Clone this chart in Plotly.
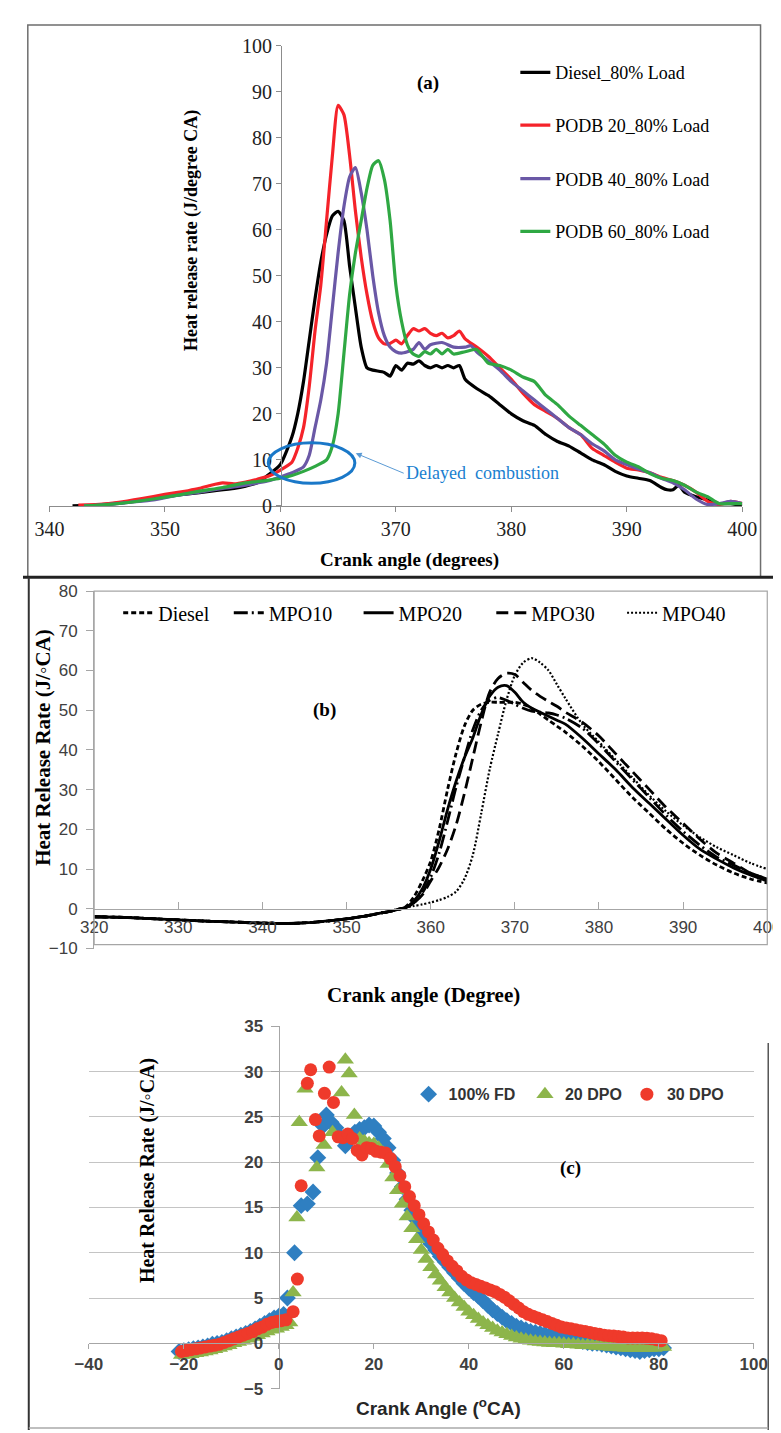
import plotly.graph_objects as go

W, H = 781, 1433
def PX(x): return x / W
def PY(y): return 1 - y / H

SERIF = "Liberation Serif, Times New Roman, serif"
SANS = "Liberation Sans, Arial, sans-serif"

# ---------------- Panel (a) data ----------------
a_names = ["Diesel_80% Load", "PODB 20_80% Load", "PODB 40_80% Load", "PODB 60_80% Load"]
a_colors = ["#000000", "#f5232a", "#6a58a6", "#2fa843"]

a_diesel_x = [342,344,346,348,350,352,354,356,357,358,
              359,360,361,361.5,362,362.5,363,363.5,364,364.5,
              365,365.5,366,366.5,367,367.5,368,369,369.5,370,
              370.5,371,371.5,372,372.5,373,373.5,374,374.5,375,
              375.5,376,377,378,379,380,381,382,383,384,
              385,386,387,388,389,390,391,392,393,393.5,
              394,394.5,395,396,397,398,399,400]
a_diesel_y = [0,0.2,0.6,1.2,2,2.6,3.2,3.8,4.3,5,
              6.8,9,15,20,27,36,45,53,59,63,
              64,62,52,43,34.5,30,29.5,29,28.2,30.5,
              29.5,31,30.8,31.5,30.5,30,30.5,30,30.5,30,
              30.5,27.5,25.5,24,22,20,18.5,17.5,15.5,14,
              13,11.5,10,9,7.5,6.5,6,5.5,4,3.5,
              3.5,4.5,3,2,1.3,0.5,0.5,0]

a_p20_x = [342.5,344,346,348,350,352,353,354,355,356,
           357,358,359,360,361,361.5,362,362.5,363,363.5,
           364,364.5,365,365.5,366,366.5,367,367.5,368,368.5,
           369,369.5,370,370.5,371,371.5,372,372.5,373,373.5,
           374,374.5,375,375.5,376,377,378,379,380,381,
           382,383,384,385,386,387,388,389,390,391,
           392,393,394,395,396,397,398,399,400]
a_p20_y = [0.2,0.3,0.8,1.6,2.5,3.3,3.8,4.5,5,4.8,
           5.2,5.8,6.5,7.8,9.5,12.5,17,26,38,48,
           62,76,87,85,76,64,54,46,40,36.5,
           35.2,35.3,36,35.2,37,38.5,38,38.5,37.5,37,
           37.5,36.5,37,38,36.3,34.5,32.5,30,27.5,24.5,
           22,20.5,19,17,15.5,12.5,11,9.5,8.2,7.8,
           7.2,6.2,5.5,4.5,3,1,0.3,1,0.5]

a_p40_x = [343,345,347,349,351,353,355,357,358,359,
           360,361,362,362.5,363,363.5,364,364.5,365,365.5,
           366,366.5,367,367.5,368,368.5,369,369.5,370,370.5,
           371,371.5,372,372.5,373,374,375,376,376.5,377,
           378,379,380,381,382,383,384,385,386,387,
           388,389,390,391,392,393,394,395,396,397,
           398,399,400]
a_p40_y = [0,0.3,0.8,1.3,2.3,3,3.8,4.5,5,5.5,
           6.3,7.2,8.5,11,17,23,31,43,55,65,
           71.5,73.5,68,60,50,42,37,34.5,33.5,33.2,
           33.5,34,35.5,34,35,35.5,34.5,34.5,34.8,33.5,
           31.5,29.5,27,25,23,21,19,17,15.5,13.5,
           12,10,9,8,7.2,6,5,3.5,1.5,0.3,
           0.5,1,0.5]

a_p60_x = [343,345,347,349,351,353,355,357,358,359,
           360,361,362,363,364,364.5,365,365.5,366,366.5,
           367,367.5,368,368.5,369,369.5,370,370.5,371,371.5,
           372,372.5,373,373.5,374,374.5,375,376,377,378,
           379,380,381,382,383,384,385,386,387,388,
           389,390,391,392,393,394,395,396,397,398,
           399,400]
a_p60_y = [0,0.3,0.8,1.5,2.3,3.2,4,5,5.3,5.6,
           6,6.6,7.5,8.6,10,13,20,33,46,55,
           62,69,74,75,71,62,48,40,35,33,
           32.5,33.5,33,34,33,34,33,33.5,34,31,
           30.5,29.5,28,27,24,22,19.5,17.5,15.5,13.5,
           11,9.5,8.5,7,6,5.5,4.5,3,2,0.5,
           0.5,0.5]

a_xticks = [340, 350, 360, 370, 380, 390, 400]
a_yticks = [0, 10, 20, 30, 40, 50, 60, 70, 80, 90, 100]

# ---------------- Panel (b) data ----------------
b_names = ["Diesel", "MPO10", "MPO20", "MPO30", "MPO40"]
b_x = [320,324,328,332,336,340,343,346,349,352,354,355,356,357,
       358,359,360,361,362,363,364,365,366,367,368,369,370,371,372,373,374,375,376,
       378,380,382,384,386,388,390,392,394,396,398,400]
b_diesel = [-2,-2.2,-2.6,-3,-3.3,-3.6,-3.7,-3.4,-2.8,-1.9,-1.1,-0.7,-0.2,0.5,
            3,7,12,20,30,39,46,50,51.5,52,52,52,52,51.5,50.5,49,47.5,46,44.5,
            41,37,32.5,28,24,20,16.5,13.5,11,9,7.5,6.5]
b_mpo10 = [-2,-2.2,-2.6,-3,-3.3,-3.6,-3.7,-3.4,-2.8,-1.9,-1.1,-0.7,-0.2,0.3,
           1.5,4,8,14,22,30.5,38,45,50,52.5,53.2,52.5,51.5,50.5,49.8,49.5,49.3,48.8,48,
           45.5,41.5,37,32.5,28,23.5,19.5,16,13,11,9,7.5]
b_mpo20 = [-2,-2.2,-2.6,-3,-3.3,-3.6,-3.7,-3.4,-2.8,-1.9,-1.1,-0.7,-0.2,0.3,
           2,5,10,17,25,32,38,43,49,53.5,55.8,56.2,54.5,52,50.5,49.5,48.5,47.5,46.5,
           43,39,35,30.5,26.5,22.5,18.5,15,12.5,10.3,8.5,7]
b_mpo30 = [-2,-2.2,-2.6,-3,-3.3,-3.6,-3.7,-3.4,-2.8,-1.9,-1.1,-0.7,-0.2,0.3,
           1.5,3.5,7,10.5,15,21,29,38,47,54.5,58,59.3,59,57,55,53.5,52.2,51,49.5,
           47,43.5,39,34.5,30,25.5,21.5,17.5,14,11.5,9,7.5]
b_mpo40 = [-2,-2.2,-2.6,-3,-3.3,-3.6,-3.7,-3.4,-2.8,-1.9,-1.1,-0.7,-0.2,0.3,
           0.7,1.1,1.6,2.2,3,4.3,7.5,13.5,24,35,44,52.5,58.8,62,63.1,62,60,56.5,53,
           46.5,42,37.5,33,28.5,24.5,21,18,15.5,13.5,11.5,10]
b_dash = ["5px,3px", "14px,4px,2px,4px", "solid", "12px,6px", "2px,2px"]
b_width = [2.8, 2.8, 2.8, 2.8, 2.2]
b_xticks = [320, 330, 340, 350, 360, 370, 380, 390, 400]
b_yticks = [-10, 0, 10, 20, 30, 40, 50, 60, 70, 80]

# ---------------- Panel (c) data ----------------
c_names = ["100% FD", "20 DPO", "30 DPO"]
c_fd_x = [-21,-20,-19,-18,-17,-16,-15,-14,-13,-12,
          -11,-10,-9,-8,-7,-6,-5,-4,-3,-2,
          -1,0,1,1.8,3.3,4.7,6,7.2,8.2,9.3,
          10,11,12,13,14,15,16,17,18,19,
          20,21,22,23,24,25,26,27,28,29,
          30,31,32,33,34,35,36,37,38,39,
          40,41,42,43,44,45,46,47,48,49,
          50,51,52,53,54,55,56,57,58,59,
          60,61,62,63,64,65,66,67,68,69,
          70,71,72,73,74,75,76,77,78,79,
          80,81]
c_fd_y = [-0.9,-0.8,-0.7,-0.6,-0.5,-0.4,-0.3,-0.1,0,0.1,
          0.3,0.5,0.7,0.9,1.1,1.3,1.6,1.9,2.2,2.5,
          2.8,3,3.2,5,10,15.2,15.4,16.7,20.5,24,
          25.2,24.4,23.8,22.8,21.8,22.6,23.3,23.6,23.8,24.1,
          24,23.3,22.6,21.6,20.2,18.8,17.3,15.9,14.7,13.6,
          12.6,11.8,11,10.3,9.6,9,8.4,7.8,7.2,6.6,
          6.1,5.6,5.2,4.7,4.2,3.7,3.3,2.9,2.5,2.2,
          1.9,1.7,1.5,1.3,1.2,1.1,1,0.9,0.8,0.7,
          0.6,0.5,0.4,0.3,0.2,0.1,0,0,-0.1,-0.2,
          -0.3,-0.4,-0.5,-0.6,-0.7,-0.8,-0.9,-0.8,-0.7,-0.6,
          -0.6,-0.5]
c_d20_x = [-20.5,-19.5,-18.5,-17.5,-16.5,-15.5,-14.5,-13.5,-12.5,-11.5,
           -10.5,-9.5,-8.5,-7.5,-6.5,-5.5,-4.5,-3.5,-2.5,-1.5,
           -0.5,0.5,1.5,2.3,3,3.8,4.3,5.5,8,9.5,
           11.3,13.2,14,14.8,15.9,17,18,19,20,21,
           22,23,24,25,26,27,28,29,30,31,
           32,33,34,35,36,37,38,39,40,41,
           42,43,44,45,46,47,48,49,50,51,
           52,53,54,55,56,57,58,59,60,61,
           62,63,64,65,66,67,68,69,70,71,
           72,73,74,75,76,77,78,79,80,81]
c_d20_y = [-1.3,-1.25,-1.2,-1.1,-1,-0.9,-0.8,-0.65,-0.5,-0.35,
           -0.2,0,0.15,0.3,0.5,0.7,0.9,1.1,1.3,1.5,
           1.6,1.8,2,2.3,5.6,13.9,24.4,28.1,19.4,21.9,
           23.3,27.7,31.3,29.8,25.2,22.6,22.3,22.1,22,21.6,
           21,19.8,18.3,16.9,15.4,14,12.7,11.5,10.3,9.3,
           8.4,7.6,6.9,6.2,5.6,5,4.5,4,3.5,3.1,
           2.7,2.3,2,1.7,1.4,1.2,1,0.8,0.65,0.5,
           0.4,0.3,0.2,0.15,0.1,0.05,0,0,-0.05,-0.1,
           -0.1,-0.15,-0.2,-0.2,-0.25,-0.3,-0.3,-0.35,-0.4,-0.4,
           -0.45,-0.5,-0.5,-0.5,-0.5,-0.5,-0.5,-0.5,-0.4,-0.4]
c_d30_x = [-20.5,-19.5,-18.5,-17.5,-16.5,-15.5,-14.5,-13.5,-12.5,-11.5,
           -10.5,-9.5,-8.5,-7.5,-6.5,-5.5,-4.5,-3.5,-2.5,-1.5,
           -0.5,0.5,1.5,3,3.9,4.7,6,6.7,7.7,8.5,
           9.6,10.6,11.5,12.5,13.5,14.5,15.5,16.5,17.5,18.5,
           19.5,20.5,21.5,22.5,23.5,24.5,25.5,26.5,27.5,28.5,
           29.5,30.5,31.5,32.5,33.5,34.5,35.5,36.5,37.5,38.5,
           39.5,40.5,41.5,42.5,43.5,44.5,45.5,46.5,47.5,48.5,
           49.5,50.5,51.5,52.5,53.5,54.5,55.5,56.5,57.5,58.5,
           59.5,60.5,61.5,62.5,63.5,64.5,65.5,66.5,67.5,68.5,
           69.5,70.5,71.5,72.5,73.5,74.5,75.5,76.5,77.5,78.5,
           79.5,80.5]
c_d30_y = [-0.9,-0.8,-0.7,-0.6,-0.5,-0.4,-0.3,-0.2,-0.1,0.1,
           0.3,0.5,0.7,0.9,1.1,1.3,1.6,1.8,2.1,2.3,
           2.4,2.5,2.6,3.5,7.1,17.4,28.7,30.2,24.7,22.9,
           27.6,30.5,26.6,22.8,22.7,23.1,22.6,21.3,20.8,21.6,
           21.5,21.2,21.1,21,20.4,19.5,18.5,17.3,16.2,15.2,
           14.2,13.2,12.3,11.4,10.5,9.8,9.1,8.5,8,7.4,
           7,6.7,6.5,6.3,6.1,5.9,5.7,5.4,5.1,4.7,
           4.3,3.9,3.5,3.2,3,2.8,2.6,2.4,2.2,2,
           1.8,1.7,1.6,1.5,1.4,1.3,1.2,1.1,1.0,0.9,
           0.85,0.8,0.75,0.7,0.6,0.6,0.6,0.6,0.55,0.5,
           0.4,0.3]
c_colors = ["#2f7fc1", "#8db54b", "#ef3a2b"]
c_symbols = ["diamond", "triangle-up", "circle"]
c_sizes = [13, 15, 13]
c_xticks = [-40, -20, 0, 20, 40, 60, 80, 100]
c_yticks = [-5, 0, 5, 10, 15, 20, 25, 30, 35]

fig = go.Figure()

for i, (xs, ys) in enumerate([(a_diesel_x, a_diesel_y), (a_p20_x, a_p20_y),
                              (a_p40_x, a_p40_y), (a_p60_x, a_p60_y)]):
    fig.add_trace(go.Scatter(x=xs, y=ys, mode="lines", name=a_names[i],
                             line=dict(color=a_colors[i], width=3.2, shape="spline", smoothing=0.6),
                             xaxis="x", yaxis="y",
                             legend="legend" if i == 0 else f"legend{i+1}"))

for i, ys in enumerate([b_diesel, b_mpo10, b_mpo20, b_mpo30, b_mpo40]):
    fig.add_trace(go.Scatter(x=b_x, y=ys, mode="lines", name=b_names[i],
                             line=dict(color="#000000", width=b_width[i], dash=b_dash[i],
                                       shape="spline", smoothing=0.8),
                             xaxis="x2", yaxis="y2", legend=f"legend{i+5}"))

for i, (xs, ys) in enumerate([(c_fd_x, c_fd_y), (c_d20_x, c_d20_y), (c_d30_x, c_d30_y)]):
    fig.add_trace(go.Scatter(x=xs, y=ys, mode="markers", name=c_names[i],
                             marker=dict(color=c_colors[i], symbol=c_symbols[i], size=c_sizes[i],
                                         line=dict(width=0)),
                             xaxis="x3", yaxis="y3", legend=f"legend{i+10}"))

def leg(x_px, y_px, size, family, weight="normal", color="#000000"):
    return dict(x=PX(x_px), y=PY(y_px), xanchor="left", yanchor="middle",
                bgcolor="rgba(0,0,0,0)", borderwidth=0,
                font=dict(family=family, size=size, color=color, weight=weight))

legends = {}
a_rows = [54.5, 108, 162.5, 216]
for i, yy in enumerate(a_rows):
    legends["legend" if i == 0 else f"legend{i+1}"] = leg(512, yy, 18, SERIF)
b_starts = [99, 214, 349, 487, 623]
for i, xx in enumerate(b_starts):
    legends[f"legend{i+5}"] = leg(xx, 603, 20, SERIF)
c_starts = [401, 522, 628]
for i, xx in enumerate(c_starts):
    legends[f"legend{i+10}"] = leg(xx, 1092, 16, SANS, weight="bold", color="#333333")

axis_common = dict(showgrid=False, zeroline=False, showline=True)

layout = dict(
    width=W, height=H, margin=dict(l=0, r=0, t=0, b=0),
    paper_bgcolor="white", plot_bgcolor="white", showlegend=True,
    xaxis=dict(domain=[PX(27.5), PX(748)], range=[340, 400], anchor="y",
               tickvals=a_xticks, ticks="outside", ticklen=5, tickcolor="#8c8c8c",
               linecolor="#8c8c8c", linewidth=1.2,
               tickfont=dict(family=SERIF, size=20, color="#222222"), **axis_common),
    yaxis=dict(domain=[PY(494.5), PY(27)], range=[0, 100], anchor="free", position=PX(268.5),
               tickvals=a_yticks, ticks="outside", ticklen=5, tickcolor="#8c8c8c",
               linecolor="#8c8c8c", linewidth=1.2,
               tickfont=dict(family=SERIF, size=20, color="#222222"), **axis_common),
    xaxis2=dict(domain=[PX(74), PX(774)], range=[320, 400], anchor="free", position=PY(904),
                tickvals=b_xticks, ticks="inside", ticklen=7, tickcolor="#a6a6a6",
                linecolor="#a6a6a6", linewidth=1.2, ticklabelstandoff=2,
                tickfont=dict(family=SANS, size=17, color="#404040"), **axis_common),
    yaxis2=dict(domain=[PY(944), PY(581)], range=[-10, 80], anchor="x2",
                tickvals=b_yticks, ticks="outside", ticklen=7, tickcolor="#a6a6a6",
                linecolor="#a6a6a6", linewidth=1.2, ticklabelstandoff=5,
                tickfont=dict(family=SANS, size=17, color="#404040"), **axis_common),
    xaxis3=dict(domain=[PX(68.5), PX(760)], range=[-40, 100], anchor="free", position=PY(1345),
                tickvals=c_xticks, ticks="outside", ticklen=5, tickcolor="#a6a6a6",
                linecolor="#a6a6a6", linewidth=1.2,
                tickfont=dict(family=SANS, size=17, color="#404040", weight="bold"),
                showgrid=False, zeroline=False, showline=True),
    yaxis3=dict(domain=[PY(1391), PY(1023)], range=[-5, 35], anchor="free", position=PX(266),
                tickvals=c_yticks, ticks="outside", ticklen=8, tickcolor="#a6a6a6",
                linecolor="#a6a6a6", linewidth=1.2, ticklabelstandoff=4,
                showgrid=True, gridcolor="#c4c4c4", gridwidth=1.2, zeroline=False, showline=True,
                tickfont=dict(family=SANS, size=17, color="#404040", weight="bold")),
)
layout.update(legends)
fig.update_layout(**layout)

def ann(text, x, y, size, family=SERIF, bold=True, angle=0, color="#000000", **kw):
    d = dict(text=text, x=PX(x), y=PY(y), xref="paper", yref="paper",
             showarrow=False, textangle=angle, xanchor="center", yanchor="middle",
             font=dict(family=family, size=size, color=color, weight="bold" if bold else "normal"))
    d.update(kw)
    return d

annotations = [
    ann("(a)", 421, 65, 19),
    ann("Crank angle (degrees)", 402, 549, 19),
    ann("Heat release rate (J/degree CA)", 175, 215, 18, angle=-90),
    ann("(b)", 314, 702, 19),
    ann("Crank angle (Degree)", 417, 991, 21),
    ann("Heat Release Rate (J/◦CA)", 20, 740, 21, angle=-90),
    ann("(c)", 569, 1167, 19),
    ann("Crank Angle (<sup>o</sup>CA)", 432, 1410, 19, family=SANS, color="#262626"),
    ann("Heat Release Rate (J/◦CA)", 129, 1170, 20, angle=-90),
    dict(text="Delayed  combustion", x=PX(346), y=PY(441), xref="paper", yref="paper",
         showarrow=True, ax=48, ay=20, axref="pixel", ayref="pixel",
         xanchor="left", yanchor="middle",
         arrowhead=2, arrowsize=1.2, arrowwidth=1, arrowcolor="#5b9bd5",
         font=dict(family=SERIF, size=18, color="#1a7fd0")),
]
fig.update_layout(annotations=annotations)

def pline(x0, y0, x1, y1, color="#333333", width=2):
    return dict(type="line", xref="paper", yref="paper",
                x0=PX(x0), y0=PY(y0), x1=PX(x1), y1=PY(y1),
                line=dict(color=color, width=width))

shapes = [
    dict(type="rect", xref="paper", yref="paper", x0=PX(5), x1=PX(767), y0=PY(567), y1=PY(6),
         line=dict(color="#6e6e6e", width=1.5)),
    pline(0, 567, 781, 567, "#222222", 3),
    pline(6, 567, 6, 1433, "#333333", 2),
    pline(775, 1040, 775, 1433, "#555555", 1.5),
    pline(6, 1431, 775, 1431, "#aaaaaa", 1.5),
    dict(type="rect", xref="paper", yref="paper", x0=PX(74), x1=PX(774), y0=PY(940), y1=PY(581),
         line=dict(color="#a6a6a6", width=1.2)),
    dict(type="circle", xref="x", yref="y", x0=358.95, x1=366.45, y0=4.9, y1=13.7,
         line=dict(color="#1a78c8", width=3)),
]
fig.update_layout(shapes=shapes)

fig.write_html("out.html")
